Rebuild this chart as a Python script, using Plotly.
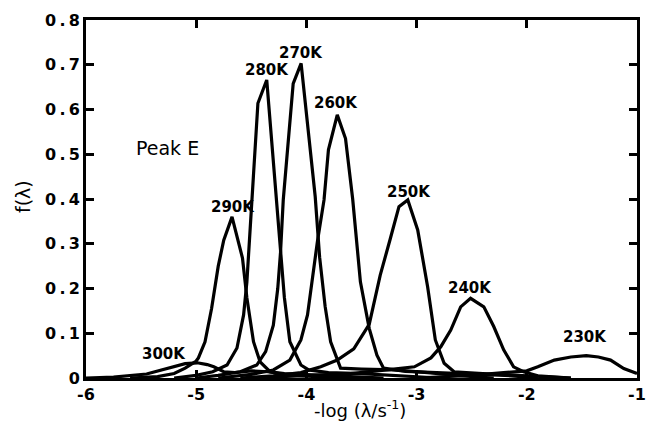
import plotly.graph_objects as go

# Distribution functions f(lambda) of peak E at several temperatures
x_300 = [-6.0, -5.75, -5.45, -5.21, -5.1, -4.99, -4.9, -4.84, -4.75, -4.65, -4.5, -4.35, -4.2, -4.0, -3.5]
y_300 = [0, 0.002, 0.009, 0.025, 0.032, 0.034, 0.03, 0.025, 0.014, 0.012, 0.016, 0.014, 0.008, 0.004, 0]

x_290 = [-5.6, -5.35, -5.2, -5.1, -5.0, -4.98, -4.92, -4.86, -4.80, -4.75, -4.675, -4.58, -4.54, -4.48, -4.42, -4.33, -4.2, -4.0, -3.7, -3.3]
y_290 = [0, 0.003, 0.01, 0.022, 0.038, 0.045, 0.081, 0.156, 0.25, 0.308, 0.36, 0.268, 0.179, 0.081, 0.036, 0.014, 0.01, 0.008, 0.004, 0]

x_280 = [-5.2, -5.0, -4.85, -4.72, -4.63, -4.57, -4.54, -4.51, -4.49, -4.44, -4.36, -4.27, -4.235, -4.2, -4.15, -4.05, -3.98, -3.8, -3.5, -3.2, -2.8]
y_280 = [0, 0.006, 0.014, 0.029, 0.067, 0.141, 0.215, 0.33, 0.398, 0.614, 0.666, 0.398, 0.28, 0.18, 0.081, 0.029, 0.018, 0.012, 0.01, 0.006, 0]

x_270 = [-5.0, -4.8, -4.6, -4.45, -4.37, -4.30, -4.26, -4.235, -4.21, -4.12, -4.048, -3.92, -3.88, -3.83, -3.78, -3.69, -3.5, -3.2, -2.9, -2.6, -2.3]
y_270 = [0, 0.006, 0.014, 0.029, 0.059, 0.118, 0.2, 0.28, 0.398, 0.658, 0.703, 0.405, 0.27, 0.16, 0.081, 0.022, 0.02, 0.018, 0.012, 0.005, 0]

x_260 = [-4.8, -4.5, -4.3, -4.15, -4.05, -3.99, -3.90, -3.84, -3.80, -3.72, -3.645, -3.58, -3.51, -3.43, -3.36, -3.30, -3.1, -2.8, -2.5, -2.2, -1.9]
y_260 = [0, 0.008, 0.018, 0.04, 0.085, 0.141, 0.305, 0.398, 0.51, 0.588, 0.535, 0.40, 0.215, 0.111, 0.051, 0.022, 0.015, 0.012, 0.01, 0.006, 0]

x_250 = [-4.6, -4.3, -4.05, -3.87, -3.72, -3.57, -3.43, -3.33, -3.24, -3.16, -3.08, -2.99, -2.90, -2.83, -2.75, -2.66, -2.4, -2.0, -1.6]
y_250 = [0, 0.005, 0.012, 0.025, 0.04, 0.065, 0.12, 0.23, 0.31, 0.383, 0.398, 0.331, 0.204, 0.085, 0.033, 0.014, 0.01, 0.005, 0]

x_240 = [-4.5, -3.6, -3.27, -3.02, -2.87, -2.78, -2.69, -2.6, -2.51, -2.39, -2.30, -2.21, -2.12, -2.03, -1.9, -1.6]
y_240 = [0, 0.01, 0.018, 0.025, 0.045, 0.07, 0.107, 0.159, 0.178, 0.159, 0.115, 0.063, 0.025, 0.014, 0.005, 0]

x_230 = [-3.0, -2.5, -2.21, -2.0, -1.90, -1.75, -1.60, -1.46, -1.35, -1.24, -1.12, -1.0]
y_230 = [0, 0.006, 0.012, 0.016, 0.025, 0.040, 0.047, 0.05, 0.047, 0.040, 0.021, 0.01]

# Temperature labels and their anchor points
label_text = ["300K", "290K", "280K", "270K", "260K", "250K", "240K", "230K"]
label_x = [-5.29, -4.67, -4.36, -4.045, -3.727, -3.07, -2.52, -1.47]
label_y = [0.054, 0.382, 0.688, 0.726, 0.615, 0.416, 0.201, 0.092]

x_ticks = [-6, -5, -4, -3, -2, -1]
x_tick_text = ["-6", "-5", "-4", "-3", "-2", "-1"]
y_ticks = [0, 0.1, 0.2, 0.3, 0.4, 0.5, 0.6, 0.7, 0.8]
y_tick_text = ["0", "0.1", "0.2", "0.3", "0.4", "0.5", "0.6", "0.7", "0.8"]

curves = [(x_300, y_300), (x_290, y_290), (x_280, y_280), (x_270, y_270),
          (x_260, y_260), (x_250, y_250), (x_240, y_240), (x_230, y_230)]

FONT = "DejaVu Sans, Verdana, sans-serif"
THIN = "\u2009"


def spaced(s):
    # plotter-style lettering: open up the decimal point
    return s.replace(".", THIN + "." + THIN)


fig = go.Figure()
for xs, ys in curves:
    fig.add_trace(go.Scatter(x=xs, y=ys, mode="lines",
                             line=dict(color="black", width=3.2),
                             showlegend=False, hoverinfo="skip"))

label_font = dict(family=FONT, size=15, color="black")
for t, lx, ly in zip(label_text, label_x, label_y):
    fig.add_annotation(x=lx, y=ly, text=f"<b>{t}</b>", showarrow=False,
                       font=label_font, xanchor="center", yanchor="middle")

fig.add_annotation(x=-5.26, y=0.514, text="Peak E", showarrow=False,
                   font=dict(family=FONT, size=19, color="black"),
                   xanchor="center", yanchor="middle")

# axis titles
fig.add_annotation(xref="paper", yref="paper", x=0.498, y=-0.1229,
                   text="-log (λ/s<sup>-1</sup>)", showarrow=False,
                   font=dict(family=FONT, size=18, color="black"),
                   xanchor="center", yanchor="bottom", borderpad=0)
fig.add_annotation(xref="paper", yref="paper", x=-0.114, y=0.506,
                   text="f(λ)", showarrow=False,
                   font=dict(family=FONT, size=19, color="black"), textangle=-90,
                   xanchor="center", yanchor="middle")

tick_font = dict(family=FONT, size=16, color="black")
fig.update_xaxes(range=[-6, -1], tickvals=x_ticks,
                 ticktext=[f"<b>{s}</b>" for s in x_tick_text],
                 ticks="inside", ticklen=8, tickwidth=2.5, tickcolor="black",
                 showline=True, linecolor="black", linewidth=3, mirror="ticks",
                 showgrid=False, zeroline=False, tickfont=tick_font,
                 automargin=False)
fig.update_yaxes(range=[0, 0.8], tickvals=y_ticks,
                 ticktext=[f"<b>{spaced(s)}</b>" for s in y_tick_text],
                 ticks="inside", ticklen=8, tickwidth=2.5, tickcolor="black",
                 showline=True, linecolor="black", linewidth=3, mirror="ticks",
                 showgrid=False, zeroline=False, tickfont=tick_font,
                 automargin=False)

fig.update_layout(width=650, height=422, margin=dict(l=86, r=13, t=20, b=44),
                  plot_bgcolor="white", paper_bgcolor="white")

fig.write_html("out.html")
